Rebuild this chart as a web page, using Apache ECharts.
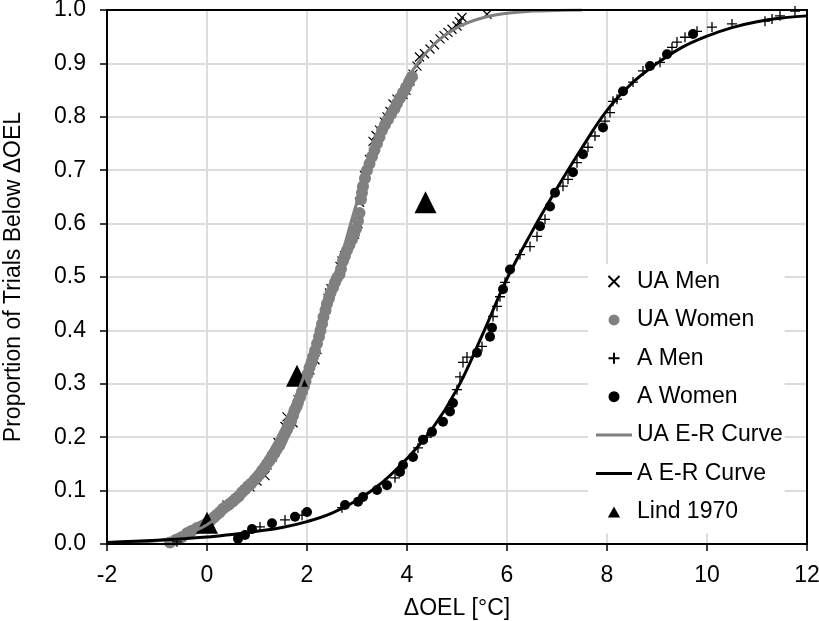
<!DOCTYPE html>
<html><head><meta charset="utf-8">
<script src="https://cdn.jsdelivr.net/npm/echarts@6/dist/echarts.min.js"></script>
<style>html,body{margin:0;padding:0;background:#fff}#c{width:819px;height:621px}</style>
</head><body><div id="c"></div>
<script>
// ---- data (x = ΔOEL [°C], y = proportion) ----
const uaMen = [[0.4,0.073],[0.86,0.107],[1.0,0.118],[1.16,0.128],[1.2,0.148],[1.3,0.163],[1.42,0.19],[1.56,0.22],[1.6,0.238],[1.72,0.227],[1.82,0.27],[1.92,0.29],[2.06,0.326],[2.16,0.345],[2.2,0.364],[2.32,0.42],[2.38,0.44],[2.42,0.46],[2.45,0.47],[2.48,0.478],[2.66,0.52],[2.7,0.53],[2.75,0.54],[2.95,0.58],[3.02,0.6],[3.05,0.64],[3.1,0.66],[3.15,0.69],[3.25,0.72],[3.32,0.754],[3.38,0.765],[3.45,0.775],[3.55,0.79],[3.6,0.8],[3.66,0.81],[3.72,0.824],[3.8,0.833],[3.92,0.842],[3.98,0.85],[4.06,0.867],[4.12,0.88],[4.2,0.895],[4.25,0.912],[4.35,0.918],[4.46,0.927],[4.55,0.935],[4.66,0.946],[4.74,0.952],[4.82,0.958],[4.9,0.964],[5.0,0.97],[5.05,0.978],[5.1,0.986],[5.6,0.992]];
const uaWomen = [[-0.74,0.003],[-0.62,0.008],[-0.56,0.01],[-0.5,0.013],[-0.4,0.02],[-0.35,0.022],[-0.3,0.025],[-0.2,0.03],[-0.12,0.033],[-0.05,0.036],[0.02,0.04],[0.08,0.045],[0.14,0.05],[0.2,0.055],[0.26,0.06],[0.32,0.066],[0.38,0.07],[0.45,0.075],[0.52,0.08],[0.58,0.085],[0.64,0.09],[0.7,0.097],[0.76,0.102],[0.82,0.108],[0.88,0.113],[0.95,0.12],[1.0,0.125],[1.05,0.13],[1.1,0.137],[1.15,0.143],[1.2,0.15],[1.25,0.156],[1.3,0.163],[1.35,0.17],[1.4,0.178],[1.45,0.185],[1.49,0.193],[1.52,0.2],[1.56,0.207],[1.6,0.214],[1.64,0.222],[1.68,0.23],[1.72,0.24],[1.75,0.25],[1.79,0.257],[1.82,0.265],[1.86,0.275],[1.9,0.285],[1.94,0.295],[1.97,0.305],[2.01,0.318],[2.05,0.33],[2.09,0.34],[2.12,0.35],[2.16,0.362],[2.2,0.375],[2.24,0.388],[2.27,0.4],[2.3,0.412],[2.33,0.425],[2.37,0.438],[2.4,0.45],[2.44,0.46],[2.47,0.47],[2.52,0.48],[2.56,0.49],[2.6,0.498],[2.65,0.505],[2.68,0.515],[2.72,0.53],[2.76,0.54],[2.8,0.55],[2.85,0.56],[2.9,0.57],[2.94,0.58],[2.98,0.59],[3.02,0.605],[3.05,0.62],[3.08,0.645],[3.1,0.658],[3.12,0.67],[3.16,0.685],[3.2,0.7],[3.25,0.712],[3.3,0.725],[3.35,0.738],[3.4,0.75],[3.45,0.762],[3.5,0.775],[3.56,0.785],[3.62,0.795],[3.68,0.805],[3.75,0.815],[3.8,0.825],[3.86,0.835],[3.92,0.845],[3.98,0.855],[4.04,0.865],[4.1,0.875]];
const aMen = [[-0.6,0.004],[1.06,0.032],[1.56,0.045],[1.9,0.054],[2.7,0.068],[3.76,0.124],[4.22,0.18],[4.4,0.2],[5.0,0.289],[5.06,0.313],[5.12,0.34],[5.2,0.35],[5.5,0.37],[5.72,0.426],[5.8,0.445],[5.86,0.463],[5.96,0.49],[6.26,0.542],[6.46,0.557],[6.6,0.576],[6.76,0.608],[7.12,0.67],[7.22,0.683],[7.4,0.714],[7.62,0.743],[7.76,0.764],[7.96,0.792],[8.06,0.808],[8.12,0.829],[8.2,0.833],[8.52,0.865],[8.72,0.886],[9.06,0.902],[9.3,0.93],[9.4,0.94],[9.56,0.949],[9.8,0.96],[10.1,0.968],[10.5,0.974],[11.16,0.979],[11.3,0.983],[11.46,0.989],[11.76,0.998]];
const aWomen = [[0.62,0.01],[0.76,0.017],[0.9,0.028],[1.3,0.039],[1.76,0.051],[2.0,0.06],[2.76,0.073],[3.02,0.079],[3.12,0.088],[3.4,0.101],[3.6,0.11],[3.86,0.135],[3.92,0.148],[4.12,0.163],[4.32,0.195],[4.5,0.21],[4.72,0.229],[4.86,0.248],[4.92,0.264],[5.4,0.358],[5.66,0.388],[5.7,0.405],[5.92,0.477],[6.06,0.514],[6.66,0.595],[6.86,0.632],[6.96,0.658],[7.32,0.696],[7.52,0.73],[7.92,0.78],[8.32,0.848],[8.86,0.895],[9.2,0.917],[9.72,0.955]];
const uaCurve = [[-2,0.001],[-1.5,0.003],[-1,0.006],[-0.5,0.016],[0,0.036],[0.5,0.075],[1,0.135],[1.5,0.215],[2,0.33],[2.5,0.475],[3,0.64],[3.5,0.775],[4,0.87],[4.5,0.932],[5,0.967],[5.5,0.985],[6,0.994],[6.5,0.998],[7,0.999],[7.5,1.0]];
const aCurve = [[-2,0.003],[-1,0.007],[0,0.013],[0.5,0.018],[1,0.024],[1.5,0.031],[2,0.042],[2.5,0.058],[3,0.082],[3.5,0.115],[4,0.16],[4.5,0.215],[5,0.29],[5.5,0.39],[6,0.497],[6.5,0.585],[7,0.666],[7.5,0.742],[8,0.812],[8.5,0.863],[9,0.9],[9.5,0.93],[10,0.951],[10.5,0.967],[11,0.978],[11.5,0.985],[12,0.989]];
const lind = [[0,0.04],[1.8,0.315],[4.37,0.64]];
const seriesNames = ['UA Men','UA Women','A Men','A Women','UA E-R Curve','A E-R Curve','Lind 1970'];
const xName = 'ΔOEL [°C]';
const yName = 'Proportion of Trials Below ΔOEL';

const FONT = '"Liberation Sans", Arial, sans-serif';
const LINE_ICON = 'path://M0 0H36V3H0Z';
const chart = echarts.init(document.getElementById('c'));
const axisCommon = {
  type: 'value',
  nameLocation: 'middle',
  nameTextStyle: {fontSize: 23, color: '#000', fontFamily: FONT},
  axisLine: {show: true, onZero: false, lineStyle: {color: '#000', width: 2}},
  axisTick: {show: true, length: 7, lineStyle: {color: '#000', width: 1.5}},
  splitLine: {show: true, lineStyle: {color: '#dcdcdc', width: 2}}
};
chart.setOption({
  animation: false,
  grid: {left: 107, right: 12, top: 10, bottom: 77, show: true, borderColor: '#000', borderWidth: 2,
         backgroundColor: 'transparent', z: 5, containLabel: false, outerBoundsMode: 'none'},
  xAxis: Object.assign({}, axisCommon, {
    min: -2, max: 12, interval: 2, name: xName, nameGap: 53,
    axisLabel: {fontSize: 23, color: '#000', fontFamily: FONT, margin: 20}
  }),
  yAxis: Object.assign({}, axisCommon, {
    min: 0, max: 1, interval: 0.1, name: yName, nameGap: 82,
    axisLabel: {fontSize: 23, color: '#000', fontFamily: FONT, margin: 21, formatter: v => v.toFixed(1)}
  }),
  legend: {
    orient: 'vertical', left: 588, top: 264,
    itemWidth: 36, itemHeight: 11, itemGap: 15.4, itemTextGap: 1,
    padding: [6, 2, 10, 8], backgroundColor: '#fff', selectedMode: false,
    textStyle: {fontSize: 23, color: '#000', fontFamily: FONT, lineHeight: 23},
    data: [
      {name: seriesNames[0]}, {name: seriesNames[1]}, {name: seriesNames[2]}, {name: seriesNames[3]},
      {name: seriesNames[4], icon: LINE_ICON},
      {name: seriesNames[5], icon: LINE_ICON},
      {name: seriesNames[6], icon: 'path://M5 0L10 9L0 9Z'}
    ]
  },
  series: [
    {name: seriesNames[0], type: 'scatter', data: uaMen, symbol: 'path://M0 0L10 10M10 0L0 10', symbolSize: 9,
     itemStyle: {color: 'none', borderColor: '#000', borderWidth: 1.2, opacity: 1}},
    {name: seriesNames[1], type: 'scatter', data: uaWomen, symbol: 'circle', symbolSize: 12,
     itemStyle: {color: '#808080', opacity: 1}},
    {name: seriesNames[2], type: 'scatter', data: aMen, symbol: 'path://M5 0L5 10M0 5L10 5', symbolSize: 10,
     itemStyle: {color: 'none', borderColor: '#000', borderWidth: 1.3, opacity: 1}},
    {name: seriesNames[3], type: 'scatter', data: aWomen, symbol: 'circle', symbolSize: 10,
     itemStyle: {color: '#000', opacity: 1}},
    {name: seriesNames[4], type: 'line', data: uaCurve, smooth: 0.4, symbol: 'none', showSymbol: false,
     lineStyle: {color: '#808080', width: 3}, itemStyle: {color: '#808080'}},
    {name: seriesNames[5], type: 'line', data: aCurve, smooth: 0.4, symbol: 'none', showSymbol: false,
     lineStyle: {color: '#000', width: 3}, itemStyle: {color: '#000'}},
    {name: seriesNames[6], type: 'scatter', data: lind, symbol: 'triangle', symbolSize: 22,
     itemStyle: {color: '#000', opacity: 1}}
  ]
});
</script></body></html>
